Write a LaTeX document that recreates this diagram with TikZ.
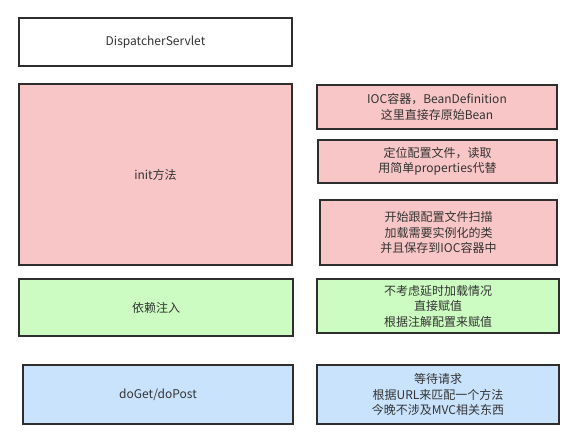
\documentclass[tikz,border=0pt]{standalone}
\usepackage{fontspec}
\setmainfont{Noto Sans CJK SC}
\usepackage{xcolor}
\usetikzlibrary{positioning}
\definecolor{boxline}{HTML}{2E2E2E}
\definecolor{txtgray}{HTML}{333333}
\definecolor{initred}{HTML}{F8C6C6}
\definecolor{digreen}{HTML}{CCFCC2}
\definecolor{reqblue}{HTML}{CAE3FC}
\tikzset{
  stagebox/.style={draw=boxline,line width=1.7pt,text=txtgray,align=center,
    inner sep=0pt,font=\fontsize{12}{15.5}\selectfont},
}
\begin{document}
\begin{tikzpicture}[x=1pt,y=-1pt]
\useasboundingbox (0,0) rectangle (579,438);
% left column: stages
\node[stagebox,fill=white,minimum width=273,minimum height=48] (servlet) at (155.5,42) {DispatcherServlet};
\node[stagebox,fill=initred,minimum width=273,minimum height=181] (init) at (155.5,174.5) {init方法};
\node[stagebox,fill=digreen,minimum width=274,minimum height=57] (inject) at (156,307.5) {依赖注入};
\node[stagebox,fill=reqblue,minimum width=270,minimum height=59] (doget) at (158,394.5) {doGet/doPost};
% right column: notes
\node[stagebox,fill=initred,minimum width=240,minimum height=44] (ioc) at (437,107) {IOC容器，BeanDefinition\\这里直接存原始Bean};
\node[stagebox,fill=initred,minimum width=239,minimum height=43] (locate) at (437.5,161.5) {定位配置文件，读取\\用简单properties代替};
\node[stagebox,fill=initred,minimum width=237,minimum height=65] (scan) at (438.5,232.5) {开始跟配置文件扫描\\加载需要实例化的类\\并且保存到IOC容器中};
\node[stagebox,fill=digreen,minimum width=242,minimum height=54] (assign) at (438,306) {不考虑延时加载情况\\直接赋值\\根据注解配置来赋值};
\node[stagebox,fill=reqblue,minimum width=242,minimum height=59] (request) at (438,394.5) {等待请求\\根据URL来匹配一个方法\\今晚不涉及MVC相关东西};
\end{tikzpicture}
\end{document}
